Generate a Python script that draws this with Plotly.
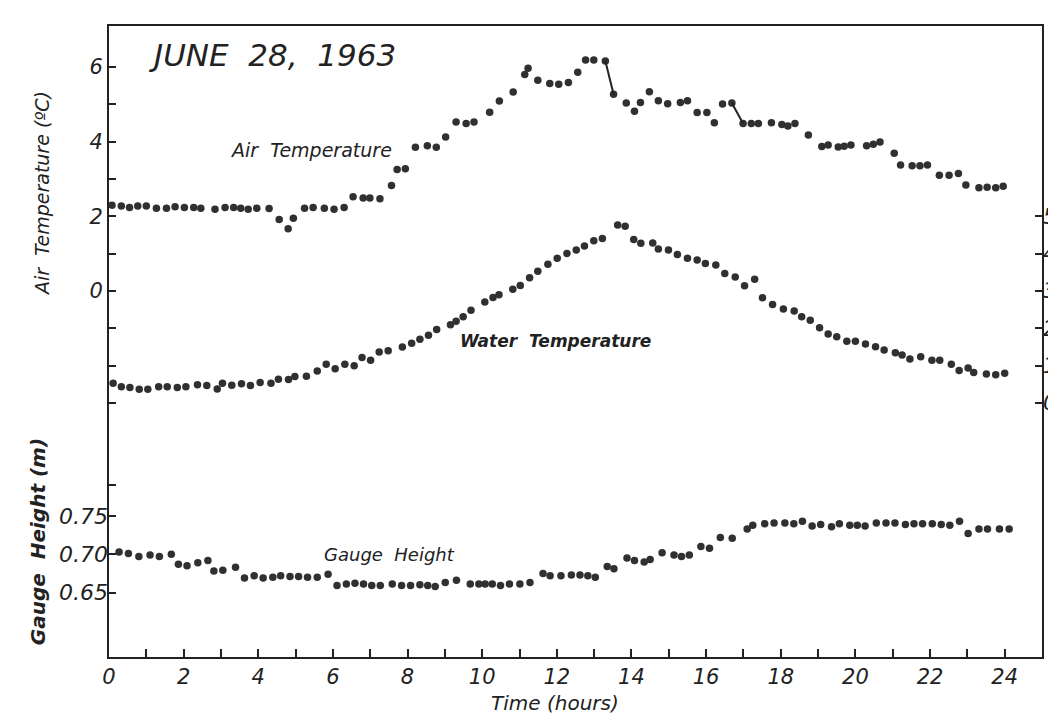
import plotly.graph_objects as go

# ---------------- data ----------------
hours_air = [0.08, 0.33, 0.55, 0.77, 1.00, 1.27, 1.54, 1.77, 2.02, 2.27, 2.46, 2.84,
             3.11, 3.34, 3.53, 3.73, 3.96, 4.29, 4.56, 4.80, 4.94, 5.24, 5.47, 5.77,
             6.03, 6.30, 6.54, 6.81, 6.99, 7.26, 7.57, 7.72, 7.94, 8.21, 8.53, 8.77,
             9.02, 9.30, 9.57, 9.78, 10.20, 10.46, 10.83, 11.14, 11.23, 11.49, 11.81, 12.05,
             12.31, 12.56, 12.77, 12.99, 13.30, 13.52, 13.86, 14.08, 14.24, 14.48, 14.72, 14.97,
             15.31, 15.50, 15.76, 16.02, 16.22, 16.44, 16.69, 16.99, 17.21, 17.40, 17.75, 18.03,
             18.19, 18.38, 18.74, 19.10, 19.27, 19.54, 19.70, 19.88, 20.30, 20.48, 20.66, 21.04,
             21.21, 21.52, 21.73, 21.93, 22.25, 22.51, 22.76, 22.96, 23.31, 23.53, 23.76, 23.96]
air_temp = [2.30, 2.28, 2.24, 2.28, 2.28, 2.22, 2.22, 2.26, 2.24, 2.24, 2.22, 2.19,
            2.24, 2.24, 2.22, 2.19, 2.22, 2.21, 1.92, 1.67, 1.95, 2.22, 2.24, 2.22,
            2.19, 2.24, 2.53, 2.49, 2.49, 2.47, 2.83, 3.26, 3.28, 3.85, 3.89, 3.85,
            4.13, 4.53, 4.49, 4.53, 4.79, 5.09, 5.33, 5.80, 5.97, 5.65, 5.56, 5.54,
            5.59, 5.86, 6.19, 6.19, 6.16, 5.27, 5.04, 4.82, 5.05, 5.34, 5.10, 5.02,
            5.05, 5.10, 4.78, 4.78, 4.51, 5.01, 5.04, 4.49, 4.49, 4.49, 4.51, 4.46,
            4.42, 4.49, 4.18, 3.87, 3.91, 3.86, 3.88, 3.91, 3.89, 3.93, 3.99, 3.69,
            3.38, 3.36, 3.36, 3.38, 3.10, 3.10, 3.15, 2.84, 2.77, 2.78, 2.77, 2.81]
air_connectors = [(52, 53), (66, 67)]  # index pairs joined by short strokes

hours_water = [0.11, 0.33, 0.56, 0.81, 1.04, 1.33, 1.56, 1.83, 2.06, 2.37, 2.62, 2.90,
               3.04, 3.29, 3.55, 3.79, 4.05, 4.34, 4.54, 4.81, 4.98, 5.29, 5.58, 5.82,
               6.06, 6.32, 6.57, 6.78, 7.01, 7.24, 7.48, 7.86, 8.11, 8.33, 8.56, 8.78,
               9.15, 9.30, 9.49, 9.70, 10.07, 10.29, 10.45, 10.82, 11.02, 11.27, 11.49, 11.76,
               12.01, 12.27, 12.52, 12.74, 12.99, 13.22, 13.63, 13.83, 14.06, 14.25, 14.57, 14.72,
               14.99, 15.23, 15.50, 15.76, 15.98, 16.26, 16.50, 16.78, 17.03, 17.30, 17.51, 17.78,
               18.07, 18.36, 18.56, 18.79, 19.04, 19.27, 19.50, 19.77, 20.00, 20.27, 20.54, 20.77,
               21.07, 21.25, 21.46, 21.75, 22.05, 22.26, 22.57, 22.78, 23.02, 23.17, 23.51, 23.76,
               24.00]
# water temperature, right-hand scale (0-5 degC, labels mostly cut off in the original)
water_temp = [0.53, 0.44, 0.42, 0.37, 0.37, 0.44, 0.44, 0.42, 0.44, 0.49, 0.47, 0.38,
              0.53, 0.48, 0.52, 0.47, 0.55, 0.53, 0.64, 0.63, 0.71, 0.72, 0.86, 1.04,
              0.92, 1.04, 1.00, 1.22, 1.15, 1.37, 1.40, 1.50, 1.60, 1.71, 1.82, 1.97,
              2.10, 2.19, 2.31, 2.49, 2.71, 2.83, 2.90, 3.05, 3.15, 3.36, 3.53, 3.72,
              3.88, 4.01, 4.10, 4.21, 4.35, 4.41, 4.77, 4.74, 4.38, 4.28, 4.29, 4.13,
              4.10, 3.98, 3.88, 3.83, 3.74, 3.70, 3.47, 3.38, 3.14, 3.32, 2.82, 2.64,
              2.52, 2.47, 2.31, 2.22, 2.02, 1.85, 1.78, 1.66, 1.66, 1.58, 1.51, 1.42,
              1.35, 1.29, 1.18, 1.24, 1.15, 1.15, 1.04, 0.87, 0.94, 0.82, 0.78, 0.76,
              0.80]

hours_gauge = [0.27, 0.52, 0.80, 1.10, 1.35, 1.67, 1.86, 2.09, 2.38, 2.65, 2.81, 3.05,
               3.39, 3.63, 3.89, 4.13, 4.39, 4.60, 4.85, 5.08, 5.32, 5.58, 5.87, 6.11,
               6.36, 6.59, 6.82, 7.04, 7.27, 7.59, 7.84, 8.08, 8.33, 8.54, 8.74, 9.01,
               9.31, 9.68, 9.91, 10.08, 10.27, 10.49, 10.73, 11.01, 11.28, 11.63, 11.82, 12.11,
               12.39, 12.62, 12.83, 13.03, 13.35, 13.53, 13.88, 14.08, 14.34, 14.50, 14.82, 15.14,
               15.34, 15.55, 15.86, 16.09, 16.38, 16.70, 17.10, 17.25, 17.57, 17.82, 18.11, 18.35,
               18.58, 18.84, 19.07, 19.36, 19.57, 19.85, 20.05, 20.26, 20.56, 20.82, 21.06, 21.34,
               21.57, 21.80, 22.06, 22.30, 22.53, 22.79, 23.02, 23.31, 23.54, 23.86, 24.12]
gauge_height = [0.703, 0.701, 0.697, 0.699, 0.697, 0.700, 0.687, 0.685, 0.689, 0.692, 0.678, 0.679,
                0.683, 0.669, 0.672, 0.669, 0.670, 0.672, 0.671, 0.671, 0.670, 0.670, 0.674, 0.659,
                0.661, 0.662, 0.661, 0.659, 0.659, 0.661, 0.659, 0.659, 0.660, 0.659, 0.658, 0.663,
                0.666, 0.661, 0.661, 0.661, 0.661, 0.659, 0.661, 0.661, 0.663, 0.675, 0.672, 0.672,
                0.673, 0.673, 0.672, 0.670, 0.684, 0.681, 0.695, 0.692, 0.690, 0.693, 0.702, 0.699,
                0.697, 0.699, 0.710, 0.708, 0.722, 0.721, 0.733, 0.738, 0.740, 0.741, 0.741, 0.740,
                0.743, 0.737, 0.739, 0.736, 0.740, 0.738, 0.738, 0.737, 0.741, 0.741, 0.741, 0.739,
                0.740, 0.740, 0.740, 0.739, 0.738, 0.743, 0.727, 0.733, 0.733, 0.733, 0.733]

x_tick_vals = list(range(0, 25))
x_tick_text = ["0", "", "2", "", "4", "", "6", "", "8", "", "10", "", "12", "", "14", "",
               "16", "", "18", "", "20", "", "22", "", "24"]
temp_tick_vals = [6, 5, 4, 3, 2, 1, 0, -1, -2, -3]
temp_tick_text = ["6", "", "4", "", "2", "", "0", "", "", ""]
water_tick_vals = [5, 4, 3, 2, 1, 0]
water_tick_text = ["5", "4", "3", "2", "1", "0"]
gauge_tick_vals = [0.79, 0.75, 0.70, 0.65]
gauge_tick_text = ["", "0.75", "0.70", "0.65"]

# ---------------- style ----------------
FONT = "DejaVu Sans"
INK = "#222222"
DOT = dict(color="#303030", size=7.5)

fig = go.Figure()

# air temperature
fig.add_trace(go.Scatter(x=hours_air, y=air_temp, mode="markers", marker=DOT,
                         yaxis="y", showlegend=False, hoverinfo="x+y"))
for i, j in air_connectors:
    fig.add_trace(go.Scatter(x=[hours_air[i], hours_air[j]], y=[air_temp[i], air_temp[j]],
                             mode="lines", line=dict(color=INK, width=2),
                             yaxis="y", showlegend=False, hoverinfo="skip"))

# water temperature on the right-hand scale
fig.add_trace(go.Scatter(x=hours_water, y=water_temp, mode="markers", marker=DOT,
                         yaxis="y3", showlegend=False, hoverinfo="x+y"))

# gauge height
fig.add_trace(go.Scatter(x=hours_gauge, y=gauge_height, mode="markers", marker=DOT,
                         yaxis="y2", showlegend=False, hoverinfo="x+y"))

TEMP_RANGE = [-9.80, 7.10]
WATER_RANGE = [-6.80, 10.10]
GAUGE_RANGE = [0.5657, 1.3905]

tickfont = dict(family=FONT, size=21, color=INK, style="italic")

# the page body has an 8 px default margin, so the figure is 8 px smaller
fig.update_layout(
    width=1048, height=712,
    margin=dict(l=101, r=12, t=18, b=63),
    paper_bgcolor="white", plot_bgcolor="white",
    font=dict(family=FONT, color=INK),
    showlegend=False,
    xaxis=dict(range=[0, 25.0], showgrid=False, zeroline=False,
               showline=True, linecolor=INK, linewidth=2, mirror=True,
               ticks="inside", ticklen=8, tickwidth=2, tickcolor=INK,
               tickvals=x_tick_vals, ticktext=x_tick_text, tickfont=tickfont),
    yaxis=dict(range=TEMP_RANGE, showgrid=False, zeroline=False,
               showline=True, linecolor=INK, linewidth=2, mirror=True,
               ticks="inside", ticklen=7, tickwidth=2, tickcolor=INK,
               tickvals=temp_tick_vals, ticktext=temp_tick_text, tickfont=tickfont),
    yaxis2=dict(range=GAUGE_RANGE, overlaying="y", side="left", anchor="x",
                showgrid=False, zeroline=False, showline=False,
                ticks="inside", ticklen=7, tickwidth=2, tickcolor=INK,
                tickvals=gauge_tick_vals, ticktext=gauge_tick_text,
                tickfont=dict(family=FONT, size=22, color=INK, style="italic")),
    yaxis3=dict(range=WATER_RANGE, overlaying="y", side="right", anchor="x",
                showgrid=False, zeroline=False, showline=False, automargin=False,
                ticks="inside", ticklen=7, tickwidth=2, tickcolor=INK,
                tickvals=water_tick_vals, ticktext=water_tick_text, tickfont=tickfont),
)


def label_font(size, bold=False):
    return dict(family=FONT, size=size, color=INK, style="italic",
                weight="bold" if bold else "normal")


annotations = [
    dict(text="JUNE  28,  1963", x=0.98, y=6.32, xref="x", yref="y", xanchor="left",
         yanchor="middle", showarrow=False, font=label_font(31)),
    dict(text="Air  Temperature", x=3.2, y=3.78, xref="x", yref="y", xanchor="left",
         yanchor="middle", showarrow=False, font=label_font(19)),
    dict(text="Water  Temperature", x=9.35, y=-1.34, xref="x", yref="y", xanchor="left",
         yanchor="middle", showarrow=False, font=label_font(17, bold=True)),
    dict(text="Gauge  Height", x=5.7, y=0.700, xref="x", yref="y2", xanchor="left",
         yanchor="middle", showarrow=False, font=label_font(18)),
    dict(text="Air  Temperature (ºC)", x=-0.0717, y=0.734, xref="paper", yref="paper",
         xanchor="center", yanchor="middle", textangle=-90, showarrow=False,
         font=label_font(19)),
    dict(text="Gauge  Height (m)", x=-0.076, y=0.182, xref="paper", yref="paper",
         xanchor="center", yanchor="middle", textangle=-90, showarrow=False,
         font=label_font(20, bold=True)),
    dict(text="Time (hours)", x=0.4775, y=-0.073, xref="paper", yref="paper",
         xanchor="center", yanchor="middle", showarrow=False, font=label_font(20)),
]
fig.update_layout(annotations=annotations)

fig.write_html("out.html")
